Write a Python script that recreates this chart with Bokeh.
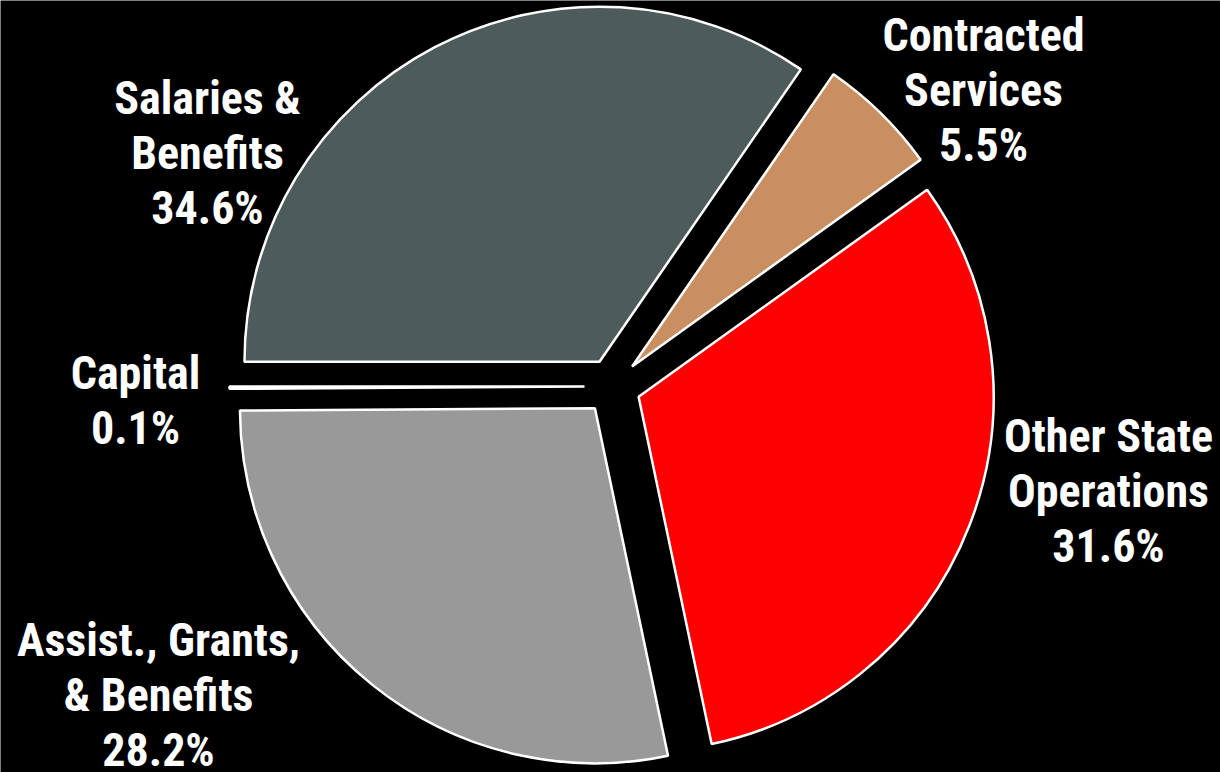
import math
from bokeh.plotting import figure
from bokeh.models import Range1d
from bokeh.core.properties import value
from bokeh.embed import file_html
from bokeh.resources import INLINE

# ---- data ----
categories = ["Salaries &\nBenefits", "Contracted\nServices", "Other State\nOperations",
              "Assist., Grants,\n& Benefits", "Capital"]
shares = [34.6, 5.5, 31.6, 28.2, 0.1]
colors = ["#4d5b5b", "#c98f60", "#ff0000", "#999999", "#ffffff"]

# ---- layout ----
W, H = 1220, 772
cx, cy = 612, 386          # pie centre (data units = pixels)
R = 355
explode = 28
FONT = "'Roboto Condensed', 'Liberation Sans'"
FS = 46
LINE_STEP = 55
# first-line anchor for each label (x centre, y in screen px)
label_pos = [(207, 97), (983, 34), (1108, 435), (158, 639), (135, 372)]

p = figure(width=W, height=H, output_backend="svg", toolbar_location=None,
           x_range=Range1d(0, W), y_range=Range1d(0, H),
           background_fill_color="black", border_fill_color="black",
           min_border=0, outline_line_color=None)
p.axis.visible = False
p.grid.visible = False

total = sum(shares)
start = math.pi  # begin at 9 o'clock, go clockwise
for share, col in zip(shares, colors):
    sweep = 2 * math.pi * share / total
    a_end = start
    a_start = start - sweep
    mid = (a_start + a_end) / 2
    ox = cx + explode * math.cos(mid)
    oy = cy + explode * math.sin(mid)
    p.wedge(x=[ox], y=[oy], radius=R, start_angle=a_start, end_angle=a_end,
            fill_color=col, line_color="white", line_width=2.5)
    start = a_start

for cat, share, (lx, ly) in zip(categories, shares, label_pos):
    lines = cat.split("\n") + [f"{share:.1f}%"]
    for i, t in enumerate(lines):
        sy = ly + i * LINE_STEP
        p.text(x=[lx], y=[H - sy], text=[t], text_color="white",
               text_font=value(FONT), text_font_size=f"{FS}px", text_font_style="bold",
               text_align="center", text_baseline="alphabetic")

html = file_html(p, INLINE)
html = html.replace("<body>", '<body style="background:#000;">', 1)
open("out.html", "w").write(html)
